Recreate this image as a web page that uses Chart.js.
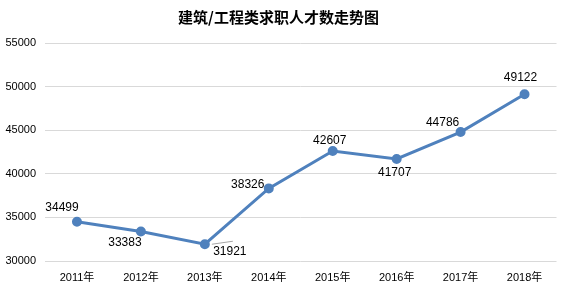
<!DOCTYPE html>
<html>
<head>
<meta charset="utf-8">
<script src="https://cdn.jsdelivr.net/npm/chart.js@4"></script>
<style>
  html, body { margin: 0; padding: 0; background: #fff; }
</style>
</head>
<body>
<canvas id="chartTalentos" width="563" height="286"></canvas>
<script>
const categorias = ['2011年', '2012年', '2013年', '2014年', '2015年', '2016年', '2017年', '2018年']
const valores = [34499, 33383, 31921, 38326, 42607, 41707, 44786, 49122]
const ticksY = [30000, 35000, 40000, 45000, 50000, 55000]

const fuente = '"Liberation Sans", "Noto Sans CJK SC", sans-serif'

// where each value label sits relative to its point (dx, dy)
const posEtiquetas = [[-15, -14], [-16, 11], [25, 7], [-21, -4], [-3, -10], [-2, 14], [-18, -9], [-4, -17]]

const etiquetasPlugin = {
    id : 'etiquetas',
    afterDatasetsDraw(chart) {
        const ctx = chart.ctx
        const meta = chart.getDatasetMeta(0)
        ctx.save()
        ctx.font = '12px ' + fuente
        ctx.fillStyle = '#000'
        ctx.textAlign = 'center'
        ctx.textBaseline = 'middle'
        meta.data.forEach((p, i) => {
            const [dx, dy] = posEtiquetas[i]
            if (i === 2) {
                ctx.strokeStyle = '#a6a6a6'
                ctx.lineWidth = 1
                ctx.beginPath()
                ctx.moveTo(p.x + 7, p.y)
                ctx.lineTo(p.x + 28, p.y - 3)
                ctx.stroke()
            }
            ctx.fillText(valores[i], p.x + dx, p.y + dy)
        })
        ctx.restore()
    }
}

const canvas = document.getElementById('chartTalentos')
const context = canvas.getContext('2d')

const chartTalentos = new Chart(context, {
    type : 'line',
    data : {
        labels : categorias,
        datasets : [
            {
                label : '求职人才数',
                data : valores,
                borderColor : '#4f81bd',
                backgroundColor : '#4f81bd',
                borderWidth : 3,
                pointRadius : 3.5,
                pointHoverRadius : 3.5,
                tension : 0
            }
        ]
    },
    options : {
        responsive : false,
        animation : false,
        layout : { padding : { left : 0, right : 6, top : 0, bottom : 0 } },
        plugins : {
            legend : { display : false },
            tooltip : { enabled : false },
            title : {
                display : true,
                text : '建筑/工程类求职人才数走势图',
                color : '#000',
                font : { family : '"Noto Sans CJK SC", sans-serif', size : 15, weight : 'bold', lineHeight : 1.2 },
                padding : { top : 8, bottom : 17 }
            }
        },
        scales : {
            x : {
                offset : true,
                grid : { display : false, drawTicks : false },
                border : { display : false },
                ticks : { color : '#000', font : { family : fuente, size : 11 }, padding : 10 },
                afterFit : (s) => { s.height = 25 }
            },
            y : {
                min : 30000,
                max : 55000,
                afterBuildTicks : (s) => { s.ticks = ticksY.map(v => ({ value : v })) },
                grid : { color : '#d9d9d9', drawTicks : false },
                border : { display : false },
                ticks : {
                    color : '#000',
                    font : { family : fuente, size : 11 },
                    padding : 9,
                    callback : (v) => String(v)
                },
                afterFit : (s) => { s.width = 45 }
            }
        }
    },
    plugins : [etiquetasPlugin]
})
</script>
</body>
</html>
